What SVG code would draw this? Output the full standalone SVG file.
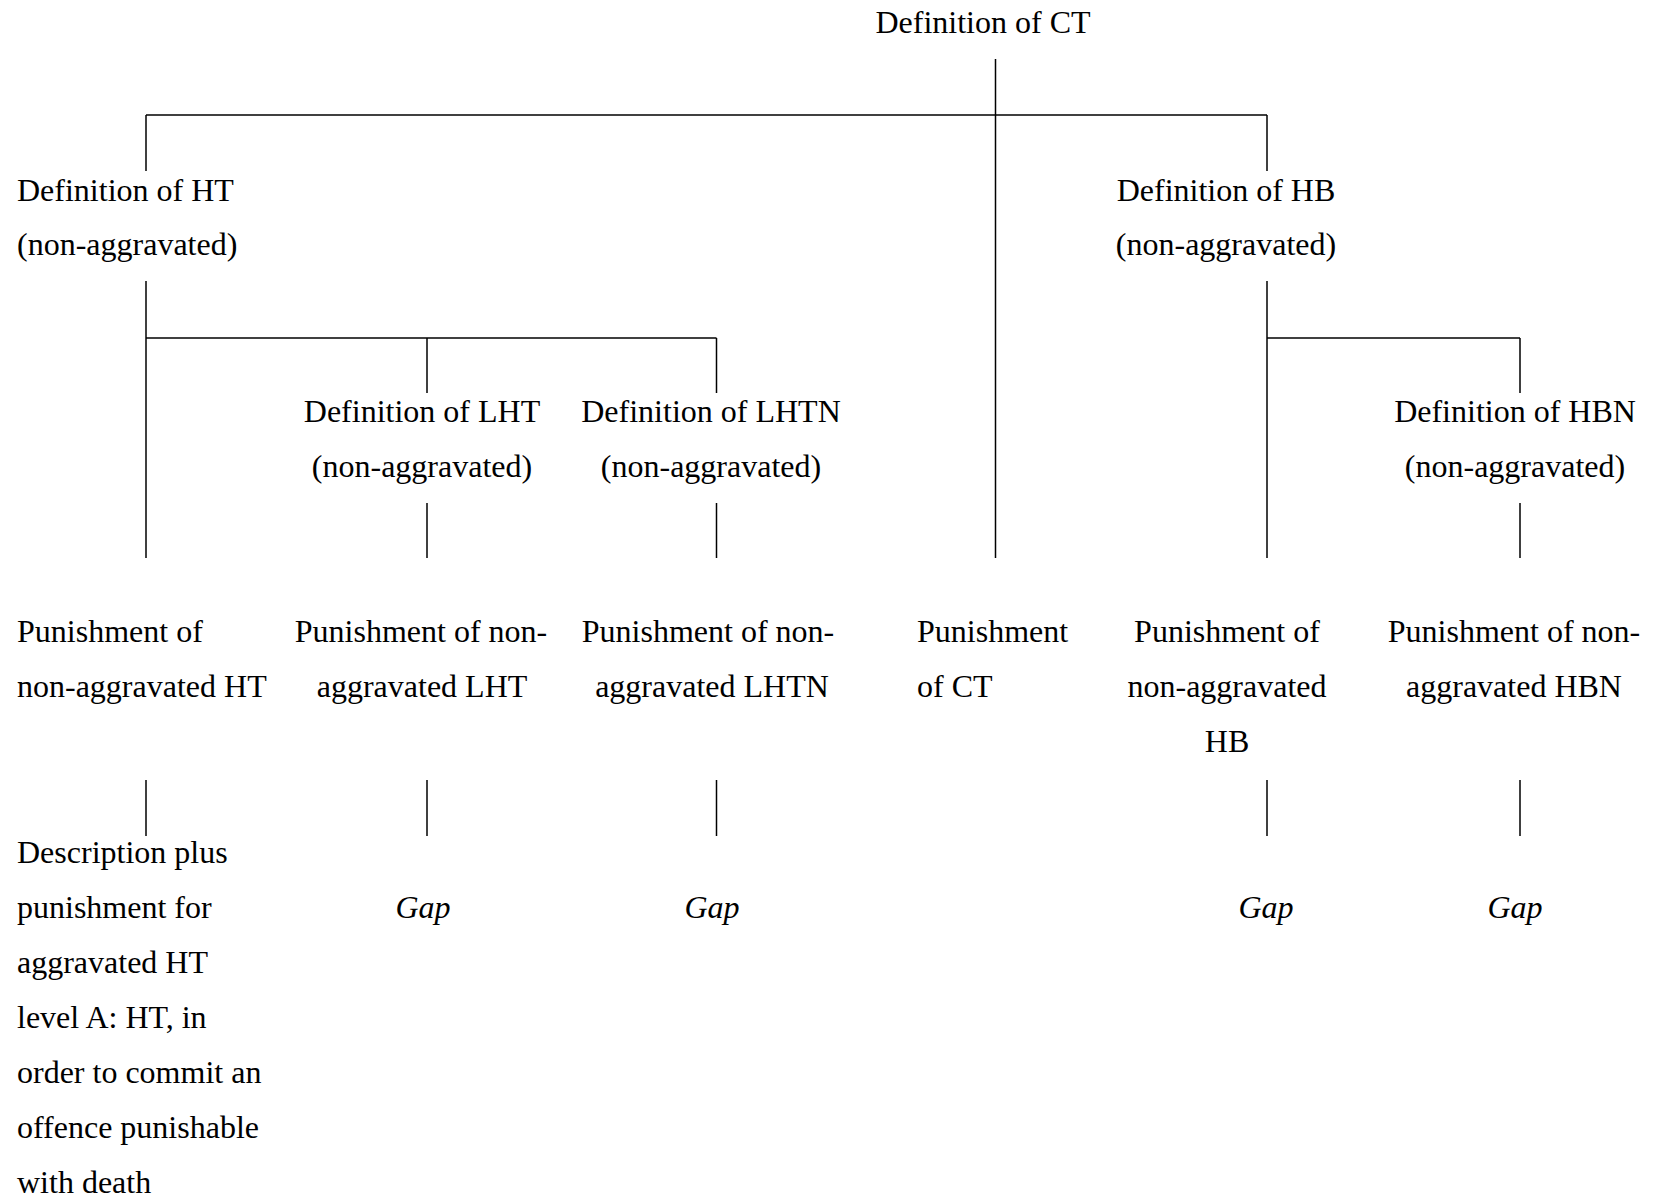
<svg xmlns="http://www.w3.org/2000/svg" width="1657" height="1201" viewBox="0 0 1657 1201">
<style>
text{font-family:"Liberation Serif","Times New Roman",serif;font-size:32px;fill:#000}
.m{text-anchor:middle}
.i{font-style:italic}
#connectors line{stroke:#000;stroke-width:1.5;fill:none}
</style>
<rect width="1657" height="1201" fill="#fff"/>
<g id="connectors">
<line x1="995.5" y1="59" x2="995.5" y2="558"/>
<line x1="146" y1="115" x2="1267" y2="115"/>
<line x1="146" y1="115" x2="146" y2="171"/>
<line x1="1267" y1="115" x2="1267" y2="171"/>
<line x1="146" y1="281" x2="146" y2="558"/>
<line x1="1267" y1="281" x2="1267" y2="558"/>
<line x1="146" y1="338" x2="716.5" y2="338"/>
<line x1="1267" y1="338" x2="1520" y2="338"/>
<line x1="427" y1="338" x2="427" y2="393"/>
<line x1="716.5" y1="338" x2="716.5" y2="393"/>
<line x1="1520" y1="338" x2="1520" y2="393"/>
<line x1="427" y1="503" x2="427" y2="558"/>
<line x1="716.5" y1="503" x2="716.5" y2="558"/>
<line x1="1520" y1="503" x2="1520" y2="558"/>
<line x1="146" y1="780" x2="146" y2="836"/>
<line x1="427" y1="780" x2="427" y2="836"/>
<line x1="716.5" y1="780" x2="716.5" y2="836"/>
<line x1="1267" y1="780" x2="1267" y2="836"/>
<line x1="1520" y1="780" x2="1520" y2="836"/>
</g>
<g id="def-ct"><text class="m" x="983" y="33">Definition of CT</text></g>
<g id="def-ht"><text x="17" y="201">Definition of HT</text><text x="17" y="255">(non-aggravated)</text></g>
<g id="def-hb"><text class="m" x="1226" y="201">Definition of HB</text><text class="m" x="1226" y="255">(non-aggravated)</text></g>
<g id="def-lht"><text class="m" x="422" y="422">Definition of LHT</text><text class="m" x="422" y="477">(non-aggravated)</text></g>
<g id="def-lhtn"><text class="m" x="711" y="422">Definition of LHTN</text><text class="m" x="711" y="477">(non-aggravated)</text></g>
<g id="def-hbn"><text class="m" x="1515" y="422">Definition of HBN</text><text class="m" x="1515" y="477">(non-aggravated)</text></g>
<g id="pun-ht"><text x="17" y="642">Punishment of</text><text x="17" y="697">non-aggravated HT</text></g>
<g id="pun-lht"><text class="m" x="421" y="642">Punishment of non-</text><text class="m" x="422" y="697">aggravated LHT</text></g>
<g id="pun-lhtn"><text class="m" x="708" y="642">Punishment of non-</text><text class="m" x="712" y="697">aggravated LHTN</text></g>
<g id="pun-ct"><text x="917" y="642">Punishment</text><text x="917" y="697">of CT</text></g>
<g id="pun-hb"><text class="m" x="1227" y="642">Punishment of</text><text class="m" x="1227" y="697">non-aggravated</text><text class="m" x="1227" y="752">HB</text></g>
<g id="pun-hbn"><text class="m" x="1514" y="642">Punishment of non-</text><text class="m" x="1514" y="697">aggravated HBN</text></g>
<g id="desc-ht">
<text x="17" y="863">Description plus</text>
<text x="17" y="918">punishment for</text>
<text x="17" y="973">aggravated HT</text>
<text x="17" y="1028">level A: HT, in</text>
<text x="17" y="1083">order to commit an</text>
<text x="17" y="1138">offence punishable</text>
<text x="17" y="1193">with death</text>
</g>
<g id="gap-lht"><text class="m i" x="423" y="918">Gap</text></g>
<g id="gap-lhtn"><text class="m i" x="712" y="918">Gap</text></g>
<g id="gap-hb"><text class="m i" x="1266" y="918">Gap</text></g>
<g id="gap-hbn"><text class="m i" x="1515" y="918">Gap</text></g>
</svg>
